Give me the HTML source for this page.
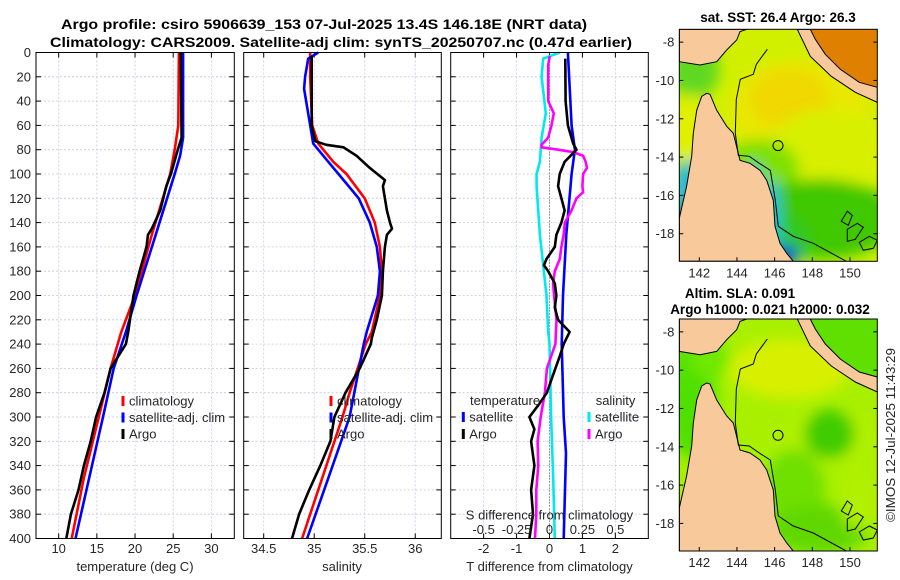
<!DOCTYPE html>
<html><head><meta charset="utf-8">
<style>
html,body{margin:0;padding:0;background:#fff;}
svg{display:block;font-family:"Liberation Sans","DejaVu Sans",sans-serif;}
.tk{font-size:13px;fill:#262626;}
.tt{font-size:13.5px;font-weight:bold;fill:#000;}
</style></head>
<body>
<svg id="fig" width="900" height="580" viewBox="0 0 900 580" xmlns="http://www.w3.org/2000/svg">
<text class="tt" x="324" y="29" text-anchor="middle" textLength="526" lengthAdjust="spacingAndGlyphs">Argo profile: csiro 5906639_153 07-Jul-2025 13.4S 146.18E (NRT data)</text>
<text class="tt" x="341" y="47" text-anchor="middle" textLength="582" lengthAdjust="spacingAndGlyphs">Climatology: CARS2009. Satellite-adj clim: synTS_20250707.nc (0.47d earlier)</text>
<g id="panels"></g>
<g id="maps"></g>
<text class="tk" transform="translate(895,435) rotate(-90)" text-anchor="middle" textLength="174" lengthAdjust="spacingAndGlyphs">©IMOS 12-Jul-2025 11:43:29</text>
</svg>
<script>
// ---------- data ----------
const depthTicks=[0,20,40,60,80,100,120,140,160,180,200,220,240,260,280,300,320,340,360,380,400];
const tempTicks=[10,15,20,25,30];
const salTicks=[34.5,35,35.5,36];
const tdiffTicks=[-2,-1,0,1,2];
const sdiffTicks=[-0.5,-0.25,0,0.25,0.5];
const sdiffTickLabels=["-0.5","-0.25","0","0.25","0.5"];

const climT_p=[0,60,80,100,150,200,230,260,300,350,400];
const climT_v=[25.75,25.66,25.2,24.6,22.2,20.0,18.2,16.8,15.26,13.3,11.7];
const satT_p=[0,70,85,100,150,200,230,260,300,350,400];
const satT_v=[26.3,26.3,25.9,25.2,22.7,20.2,18.8,17.2,15.8,14.0,12.2];
const argoT_p=[0,70,80,100,110,130,145,150,160,180,200,230,240,260,280,300,320,340,360,380,400];
const argoT_v=[26.0,26.1,25.6,24.7,24.1,23.3,22.2,21.7,21.5,20.6,19.8,19.1,18.8,16.8,16.0,14.9,14.2,13.3,12.6,11.6,11.0];

const climS_p=[0,20,60,75,90,100,120,140,160,180,200,230,240,260,280,300,350,400];
const climS_v=[34.96,34.96,34.98,35.04,35.19,35.32,35.50,35.60,35.65,35.67,35.65,35.57,35.51,35.43,35.35,35.28,35.08,34.88];
const satS_p=[0,5,20,30,60,75,90,100,120,140,160,180,200,230,240,300,350,400];
const satS_v=[35.04,34.94,34.91,34.90,34.96,34.99,35.14,35.24,35.44,35.55,35.62,35.65,35.63,35.52,35.49,35.35,35.14,34.93];
const argoS_p=[3,20,60,73,76,78,85,95,105,110,130,140,145,150,160,180,200,220,235,240,260,280,300,320,340,360,380,400];
const argoS_v=[34.975,34.975,34.975,35.01,35.12,35.29,35.42,35.55,35.70,35.68,35.72,35.75,35.77,35.72,35.70,35.68,35.67,35.62,35.57,35.56,35.45,35.31,35.20,35.16,35.06,34.95,34.85,34.78];

const dT_sat_p=[0,60,80,100,150,200,240,300,330,400];
const dT_sat_v=[0.56,0.67,0.77,0.67,0.51,0.41,0.37,0.43,0.5,0.43];
const dT_argo_p=[5,40,60,75,80,90,100,110,120,130,140,150,160,170,175,180,190,200,210,220,230,240,250,260,270,280,290,300,310,320,340,360,380,400];
const dT_argo_v=[0.48,0.49,0.56,0.72,0.82,0.46,0.31,0.26,0.36,0.46,0.36,0.21,0.16,-0.09,-0.17,-0.04,0.16,0.21,0.16,0.26,0.61,0.43,0.31,0.18,0.05,-0.08,-0.33,-0.61,-0.46,-0.56,-0.46,-0.56,-0.5,-0.61];
const dS_sat_p=[0,5,20,50,70,90,100,110,150,175,200,230,240,300,350,400];
const dS_sat_v=[0.078,-0.048,-0.06,-0.028,-0.06,-0.073,-0.098,-0.098,-0.073,-0.048,-0.023,-0.01,0,0.012,0.028,0.04];
const dS_argo_p=[3,10,40,50,60,70,76,78,80,82,85,90,95,100,110,115,120,130,140,150,160,170,180,190,200,220,240,260,280,300,320,340,360,380,400];
const dS_argo_v=[0.002,-0.01,-0.01,0.033,0.015,-0.01,-0.06,-0.06,0.065,0.18,0.255,0.275,0.285,0.255,0.25,0.255,0.205,0.167,0.116,0.108,0.09,0.078,0.04,0.027,0.035,0.053,0.045,-0.02,-0.035,-0.067,-0.09,-0.085,-0.1,-0.1,-0.11];

// ---------- helpers ----------
const NS="http://www.w3.org/2000/svg";
function mk(tag,attrs,parent){const e=document.createElementNS(NS,tag);for(const k in attrs)e.setAttribute(k,attrs[k]);parent.appendChild(e);return e;}
const panels=document.getElementById('panels');
const Y0=52.5,Y1=538.5;
function yP(p){return Y0+(p/400)*(Y1-Y0);}

function makeAxis(x0,x1,vmin,vmax){return v=>x0+(v-vmin)/(vmax-vmin)*(x1-x0);}

function panelFrame(name,x0,x1,xTicks,xFn,gridFn,showY){
  const g=mk('g',{},panels);
  
  
  // grid
  xTicks.forEach(v=>{const l=mk('line',{x1:gridFn(v),x2:gridFn(v),y1:Y0,y2:Y1,stroke:'#c4c8e4','stroke-width':0.8,'stroke-dasharray':'2,2'},g);
    });
  depthTicks.forEach(p=>{if(p===0||p===400)return;const l=mk('line',{x1:x0,x2:x1,y1:yP(p),y2:yP(p),stroke:'#c4c8e4','stroke-width':0.8,'stroke-dasharray':'2,2'},g);
    });
  // y ticks
  depthTicks.forEach(p=>{
    mk('line',{x1:x0,x2:x0+5,y1:yP(p),y2:yP(p),stroke:'#000','stroke-width':1},g);
    mk('line',{x1:x1,x2:x1-5,y1:yP(p),y2:yP(p),stroke:'#000','stroke-width':1},g);
    if(showY){const t=mk('text',{x:x0-5,y:yP(p)+4.5,'text-anchor':'end',class:'tk'},g);t.textContent=p;
      }
  });
  xTicks.forEach(v=>{
    mk('line',{x1:gridFn(v),x2:gridFn(v),y1:Y1,y2:Y1-5,stroke:'#000','stroke-width':1},g);
    mk('line',{x1:gridFn(v),x2:gridFn(v),y1:Y0,y2:Y0+5,stroke:'#000','stroke-width':1},g);
  });
  return g;
}
function frameBox(g,x0,x1){mk('rect',{x:x0,y:Y0,width:x1-x0,height:Y1-Y0,fill:'none',stroke:'#000','stroke-width':1},g);}
function series(g,name,ps,vs,xFn,color,w){
  const pts=ps.map((p,i)=>xFn(vs[i]).toFixed(1)+','+yP(p).toFixed(1)).join(' ');
  const l=mk('polyline',{points:pts,fill:'none',stroke:color,'stroke-width':w||2.6,'stroke-linejoin':'round'},g);
  
  
}
function label(g,name,x,y,txt,anchor,cls){const t=mk('text',{x:x,y:y,'text-anchor':anchor||'start',class:cls||'tk'},g);t.textContent=txt;
  return t;}
function legendEntry(g,name,x,y,color,txt){
  mk('line',{x1:x,x2:x,y1:y-5,y2:y+5,stroke:color,'stroke-width':3},g);
  const t=label(g,name,x+6,y+4.5,txt);
}

// ---------- temperature panel ----------
const xT=makeAxis(36,234.3,7.03,33.0);
const gT=panelFrame('temperature-panel',36,234.3,tempTicks,xT,xT,true);
series(gT,'temp-climatology-line',climT_p,climT_v,xT,'#ff0000');
series(gT,'temp-satellite-line',satT_p,satT_v,xT,'#0000ff');
series(gT,'temp-argo-line',argoT_p,argoT_v,xT,'#000000');
tempTicks.forEach(v=>label(gT,'x-tick-label',xT(v),553,String(v),'middle'));
label(gT,'x-axis-title',135,571,'temperature (deg C)','middle');
legendEntry(gT,'legend-climatology',123,401,'#ff0000','climatology');
legendEntry(gT,'legend-satellite-adj',123,417.5,'#0000ff','satellite-adj. clim');
legendEntry(gT,'legend-argo',123,434,'#000000','Argo');
frameBox(gT,36,234.3);

// ---------- salinity panel ----------
const xS=makeAxis(243.7,441.3,34.302,36.258);
const gS=panelFrame('salinity-panel',243.7,441.3,salTicks,xS,xS,false);
series(gS,'sal-climatology-line',climS_p,climS_v,xS,'#ff0000');
series(gS,'sal-satellite-line',satS_p,satS_v,xS,'#0000ff');
series(gS,'sal-argo-line',argoS_p,argoS_v,xS,'#000000');
salTicks.forEach(v=>label(gS,'x-tick-label',xS(v),553,String(v),'middle'));
label(gS,'x-axis-title',342,571,'salinity','middle');
legendEntry(gS,'legend-climatology',331,401,'#ff0000','climatology');
legendEntry(gS,'legend-satellite-adj',331,417.5,'#0000ff','satellite-adj. clim');
legendEntry(gS,'legend-argo',331,434,'#000000','Argo');
frameBox(gS,243.7,441.3);

// ---------- difference panel ----------
const xDT=makeAxis(450.7,648.3,-3,3);
const xDS=makeAxis(450.7,648.3,-0.75,0.75);
const gD=panelFrame('difference-panel',450.7,648.3,tdiffTicks,xDT,xDT,false);
mk('line',{x1:xDT(0),x2:xDT(0),y1:Y0,y2:Y1,stroke:'#555','stroke-width':1,'stroke-dasharray':'1,2'},gD);
series(gD,'sdiff-satellite-line',dS_sat_p,dS_sat_v,xDS,'#00e8f0');
series(gD,'tdiff-satellite-line',dT_sat_p,dT_sat_v,xDT,'#0000ff');
series(gD,'sdiff-argo-line',dS_argo_p,dS_argo_v,xDS,'#ff00ff');
series(gD,'tdiff-argo-line',dT_argo_p,dT_argo_v,xDT,'#000000');
tdiffTicks.forEach(v=>label(gD,'t-tick-label',xDT(v),553,String(v),'middle'));
label(gD,'x-axis-title',549.5,571,'T difference from climatology','middle');
sdiffTicks.forEach((v,i)=>label(gD,'s-tick-label',xDS(v),534,sdiffTickLabels[i],'middle'));
label(gD,'s-axis-title',549.5,519.5,'S difference from climatology','middle');
label(gD,'legend-temperature-header',470,405,'temperature');
legendEntry(gD,'legend-t-satellite',463.3,417,'#0000ff','satellite');
legendEntry(gD,'legend-t-argo',463.3,434,'#000000','Argo');
label(gD,'legend-salinity-header',595.7,405,'salinity');
legendEntry(gD,'legend-s-satellite',589,417,'#00e8f0','satellite');
legendEntry(gD,'legend-s-argo',589,434,'#ff00ff','Argo');
frameBox(gD,450.7,648.3);

// ---------- maps ----------
const lonTicks=[142,144,146,148,150];
const latTicks=[-8,-10,-12,-14,-16,-18];
const mapsG=document.getElementById('maps');
const MX0=679.3,MW=198,MH=232;
function lonX(lon){return MX0+(lon-140.94)/(151.45-140.94)*MW;}
function latY(top,lat){return top+(-7.33-lat)/(-7.33+19.44)*MH;}

// land / features in local map pixel coords (0..198 x 0..232)
const capeYork="0,189 7.3,157 12.4,127 14,104 17.4,81 22.4,67 27.4,64 30.7,65 37.4,81 47.4,97 54,104 60.7,131 70.7,134 80.7,141 87.4,151 94,171 95.7,197 100.7,214 107.4,224 114,232 0,232";
const pngWest="0,0 67.4,0 60.7,2.4 57.4,10.7 47.4,20.7 37.4,32.4 20.7,35.7 0,32.4";
const pngBand="118,0 131,0 136,10 146,25 161,40 180,53 198,58 198,73 176,63 152,47 131,27";
const pngEast="131,0 198,0 198,58 180,53 161,40 146,25 136,10";
const shelf="88,20 77,35 74,45 61,50 57,70 56,104 59,126 70,127 80,134 91,141 96,171 99,197 114,207 134,214 167,232";

function drawMap(name,top,title1,title2,blobs,base,eastColor,extra){
  const g=mk('g',{},mapsG);
  
  
  const id=name+'-clip';
  const cp=mk('clipPath',{id:id},g);mk('rect',{x:0,y:0,width:MW,height:MH},cp);
  const fid=name+'-blur';
  const f=mk('filter',{id:fid,x:'-20%',y:'-20%',width:'140%',height:'140%'},g);mk('feGaussianBlur',{stdDeviation:7},f);
  const inner=mk('g',{transform:`translate(${MX0},${top})`,'clip-path':`url(#${id})`},g);
  mk('rect',{x:0,y:0,width:MW,height:MH,fill:base},inner);
  const bg=mk('g',{filter:`url(#${fid})`},inner);
  blobs.forEach(b=>mk('ellipse',{cx:b[0],cy:b[1],rx:b[2],ry:b[3],fill:b[4]},bg));
  if(extra)extra(inner);
  mk('polygon',{points:pngEast,fill:eastColor},inner);
  mk('polygon',{points:capeYork,fill:'#f7c99b',stroke:'#000','stroke-width':1},inner);
  mk('polygon',{points:pngWest,fill:'#f7c99b',stroke:'#000','stroke-width':1},inner);
  mk('polygon',{points:pngBand,fill:'#f7c99b',stroke:'#000','stroke-width':1},inner);
  mk('polyline',{points:shelf,fill:'none',stroke:'#000','stroke-width':1},inner);
  mk('path',{d:'M162,192 l6,-10 l5,4 l-4,10 z M168,200 l10,-6 l6,4 l-8,12 l-8,2 z M180,213 l10,-6 l8,4 l-4,8 l-10,2 z',fill:'none',stroke:'#000','stroke-width':1},inner);
  const c=mk('circle',{cx:lonX(146.18)-MX0,cy:latY(0,-13.4),r:5,fill:'none',stroke:'#000','stroke-width':1},inner);
  
  mk('rect',{x:MX0,y:top,width:MW,height:MH,fill:'none',stroke:'#000','stroke-width':1},g);
  lonTicks.forEach(v=>{mk('line',{x1:lonX(v),x2:lonX(v),y1:top+MH,y2:top+MH-4,stroke:'#000'},g);
    label(g,'lon-tick-label',lonX(v),top+MH+16,String(v),'middle');});
  latTicks.forEach(v=>{mk('line',{x1:MX0,x2:MX0+4,y1:latY(top,v),y2:latY(top,v),stroke:'#000'},g);
    mk('line',{x1:MX0+MW,x2:MX0+MW-4,y1:latY(top,v),y2:latY(top,v),stroke:'#000'},g);
    label(g,'lat-tick-label',MX0-5,latY(top,v)+4.5,String(v),'end');});
  return g;
}
const sstBlobs=[
 [15,40,25,30,'#60d820'],[12,100,18,35,'#e0f000'],[8,160,14,30,'#20b8e0'],[2,200,8,25,'#0030b0'],
 [120,80,70,50,'#e8e800'],[110,70,40,30,'#f0d800'],[150,120,60,40,'#d8f000'],
 [80,140,40,30,'#80e000'],[140,190,80,40,'#40c800'],[100,210,30,25,'#30c820'],
 [92,190,8,40,'#20c0e8'],[106,226,14,10,'#0050d0'],[75,145,6,12,'#30c0d0']];
drawMap('sst-map',29.3,'','',sstBlobs,'#d0f000','#e08000',null);
label(mapsG,'sst-map-title',778,22,'sat. SST: 26.4 Argo: 26.3','middle','tt');
const slaBlobs=[
 [12,80,25,60,'#50e000'],[30,40,20,20,'#70e800'],
 [110,50,60,30,'#d8f000'],[150,120,50,30,'#b0f000'],
 [150,115,25,25,'#40cc00'],[115,170,30,40,'#70e000'],[140,210,50,25,'#60d800'],[180,180,20,30,'#b0f000']];
drawMap('sla-map',319,'','',slaBlobs,'#a8f000','#60e000',null);
label(mapsG,'sla-map-title',740,298,'Altim. SLA: 0.091','middle','tt');
label(mapsG,'sla-map-subtitle',770,314,'Argo h1000: 0.021 h2000: 0.032','middle','tt');
</script>
</body></html>
